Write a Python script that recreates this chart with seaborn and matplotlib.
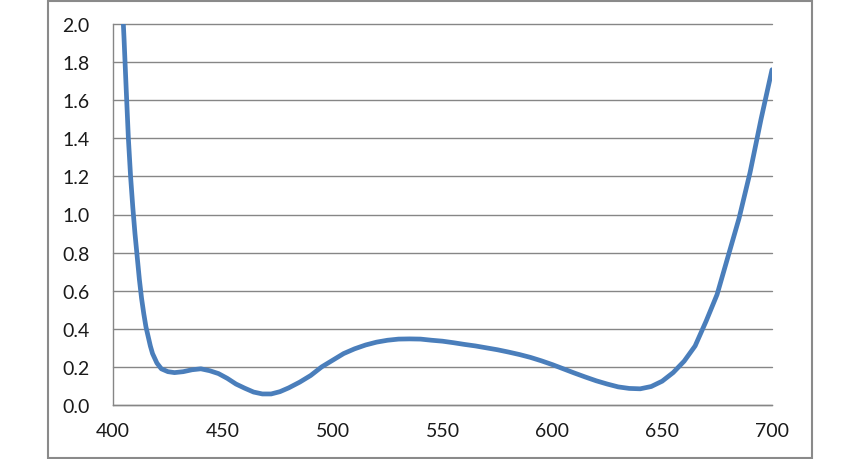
import numpy as np
import pandas as pd
import seaborn as sns
import matplotlib.pyplot as plt
from matplotlib.patches import Rectangle

wavelength = [404, 405, 406, 407, 408, 409, 410, 411, 412, 413, 414, 415, 416, 417,
              418, 419, 420, 422, 425, 428, 432, 436, 440, 444, 448, 452, 456, 460,
              464, 468, 472, 476, 480, 485, 490, 495, 500, 505, 510, 515, 520, 525,
              530, 535, 540, 545, 550, 555, 560, 565, 570, 575, 580, 585, 590, 595,
              600, 605, 610, 615, 620, 625, 630, 635, 640, 645, 650, 655, 660, 665,
              670, 675, 680, 685, 690, 695, 700]
value = [2.17, 1.93, 1.66, 1.40, 1.20, 1.04, 0.90, 0.78, 0.66, 0.56, 0.48, 0.41, 0.36, 0.31,
         0.27, 0.245, 0.22, 0.19, 0.175, 0.17, 0.175, 0.185, 0.19, 0.18, 0.165, 0.14, 0.11, 0.088,
         0.068, 0.058, 0.058, 0.07, 0.09, 0.12, 0.155, 0.20, 0.235, 0.27, 0.295, 0.315, 0.33, 0.34,
         0.346, 0.347, 0.346, 0.34, 0.335, 0.327, 0.318, 0.31, 0.30, 0.29, 0.278, 0.265, 0.25, 0.232,
         0.212, 0.19, 0.168, 0.147, 0.127, 0.11, 0.095, 0.087, 0.085, 0.097, 0.125, 0.17, 0.23, 0.31,
         0.44, 0.58, 0.78, 0.98, 1.22, 1.50, 1.76]

x_ticks = [400, 450, 500, 550, 600, 650, 700]
y_ticks = [0.0, 0.2, 0.4, 0.6, 0.8, 1.0, 1.2, 1.4, 1.6, 1.8, 2.0]

df = pd.DataFrame({"wavelength": wavelength, "value": value})

sns.set_style("white")
plt.rcParams['font.family'] = ['Lato', 'DejaVu Sans']

grey = "#868686"
fig = plt.figure(figsize=(8.6, 4.6), dpi=100)
ax = fig.add_axes([113 / 860, 1 - 406 / 460, (772 - 113) / 860, (406 - 25) / 460])

sns.lineplot(data=df, x="wavelength", y="value", ax=ax, color="#4a7ebb",
             linewidth=3.4, sort=False)

ax.set_xlim(400, 700)
ax.set_ylim(0, 2.0)
ax.set_xticks(x_ticks)
ax.set_yticks(y_ticks)
ax.set_yticklabels([f"{t:.1f}" for t in y_ticks])
ax.set_xlabel("")
ax.set_ylabel("")

# excel-like horizontal gridlines
for t in y_ticks:
    ax.axhline(t, color=grey, lw=1.0, zorder=0.5, clip_on=False)

for side in ["top", "right"]:
    ax.spines[side].set_visible(False)
for side in ["left", "bottom"]:
    ax.spines[side].set_color(grey)
    ax.spines[side].set_linewidth(1.0)

ax.tick_params(axis="both", direction="out", length=5, width=1.0, color=grey,
               labelsize=14, labelcolor="#1a1a1a")
ax.tick_params(axis="y", pad=12)
ax.tick_params(axis="x", pad=7)

# outer chart border
fig.patches.append(Rectangle((48 / 860, 1 / 460), (812 - 48) / 860, (458 - 1) / 460,
                             transform=fig.transFigure, fill=False,
                             edgecolor="#8a8a8a", linewidth=1.5))

fig.savefig("out.png", dpi=100, facecolor="white")
